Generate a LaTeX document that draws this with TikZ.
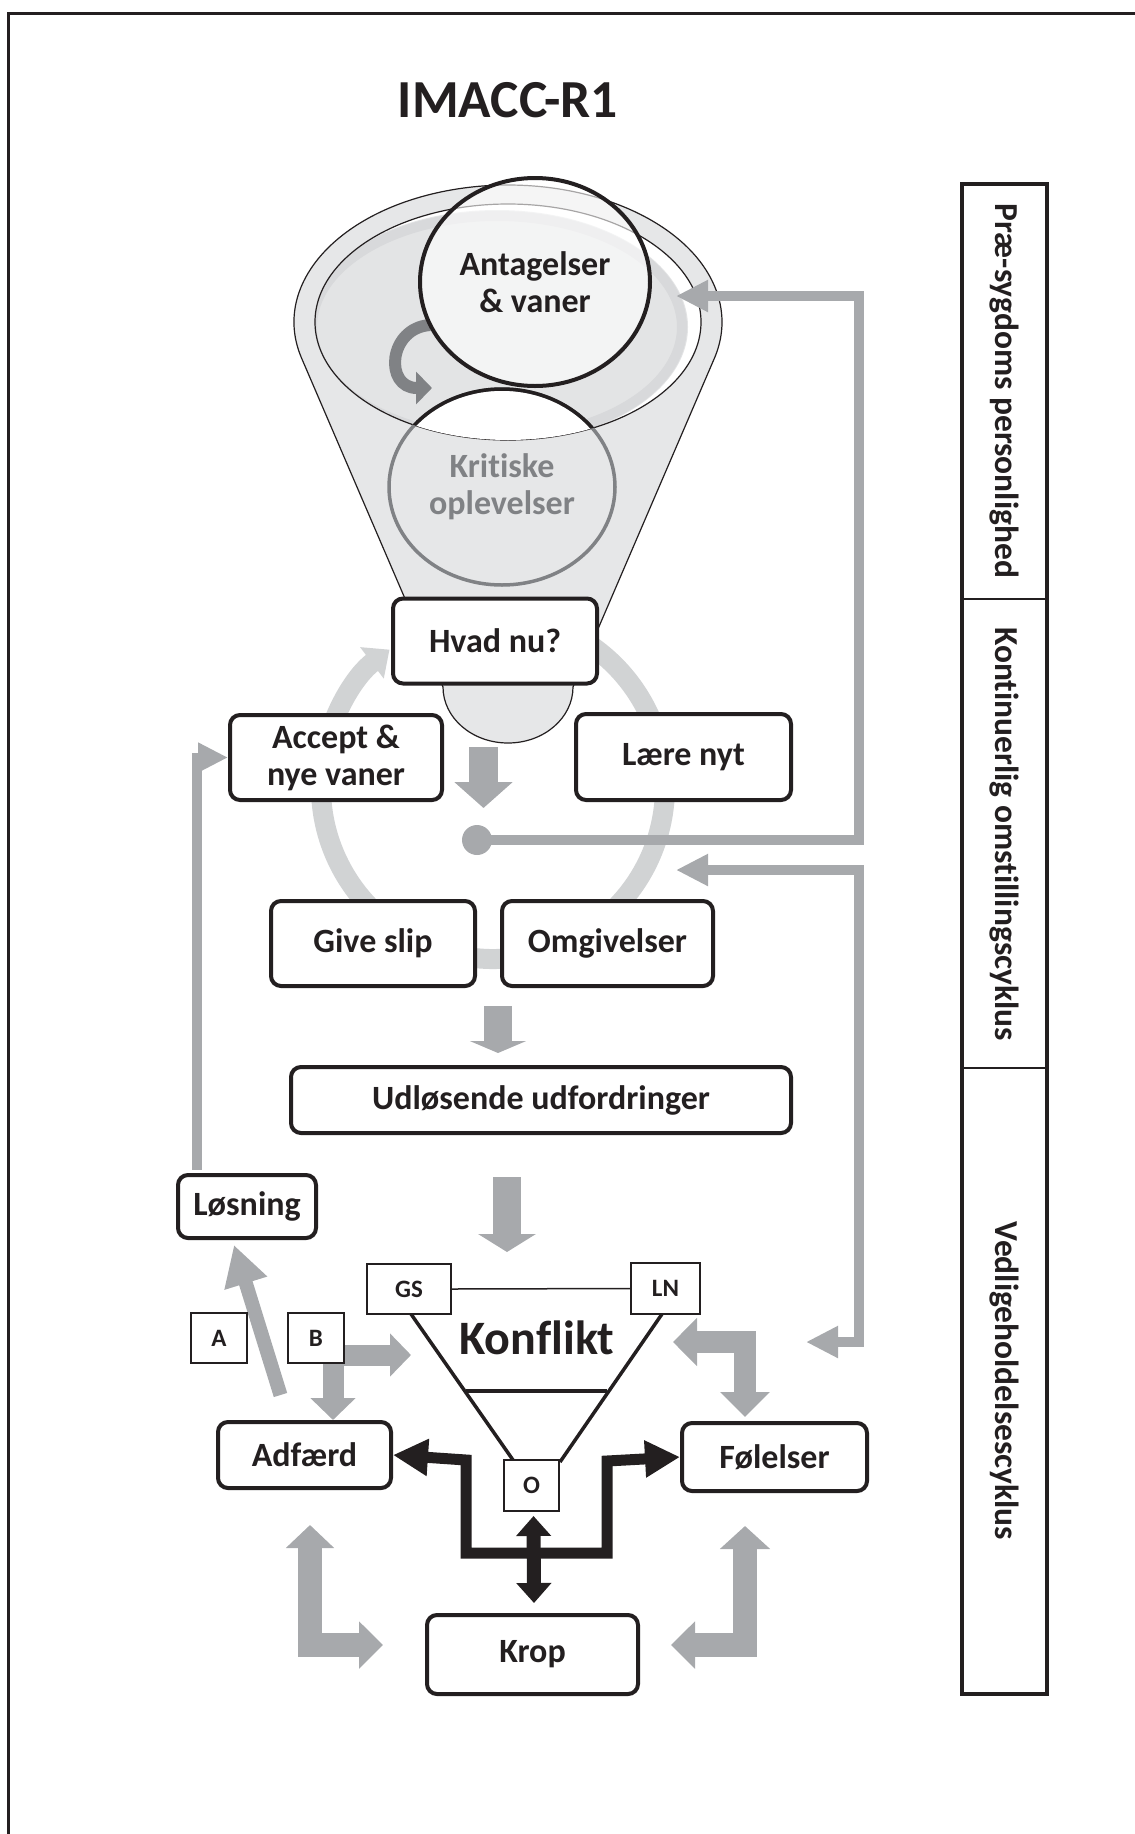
\documentclass[tikz,border=0pt]{standalone}
\usepackage{fontspec}
\setmainfont{Carlito}[Ligatures=NoCommon]
\usetikzlibrary{arrows.meta,calc,shapes.geometric}
\definecolor{ink}{HTML}{231F20}
\definecolor{arrgray}{HTML}{A7A9AC}
\definecolor{ringgray}{HTML}{D1D3D4}
\definecolor{funnelgray}{HTML}{E6E7E8}
\definecolor{shadegray}{HTML}{E3E4E5}
\definecolor{shadeedge}{HTML}{D8D9DB}
\definecolor{midgray}{HTML}{808285}
\begin{document}
\begin{tikzpicture}[x=1pt,y=-1pt,
  box/.style={draw=ink, line width=4pt, rounded corners=10pt, fill=white, inner sep=0pt,
    align=center, text=ink, font=\fontsize{34}{37}\selectfont\bfseries},
  sq/.style={draw=ink, line width=2pt, fill=white, inner sep=0pt, text=ink,
    font=\fontsize{25}{28}\selectfont\bfseries},
  garrow/.style={draw=arrgray, line width=10pt},
  blockarrow/.style={draw=arrgray, line join=miter},
  blk/.style={draw=ink, line join=miter},
  coltext/.style={rotate=-90, text=ink, font=\fontsize{33.5}{36}\selectfont\bfseries}
]
\useasboundingbox (0,0) rectangle (1135,1834);
% frame
\draw[ink, line width=3pt] (8,1834) -- (8,13) -- (1135,13);
% title
\node[text=ink, font=\fontsize{53.5}{60}\selectfont\bfseries] (title) at (508,100) {IMACC-R1};

% cycle ring
\coordinate (ringc) at (493,787);
\draw[ringgray, line width=20pt, -{Triangle[length=22pt,width=38pt]}]
  (ringc) ++(-80:172) arc[start angle=-80, end angle=233, radius=172];

% funnel
\filldraw[fill=funnelgray, draw=ink, line width=1.2pt]
  (443,687) -- (301.3,357.5) arc[start angle=165, end angle=375, x radius=214, y radius=137]
  -- (573,687) arc[start angle=0, end angle=180, x radius=65, y radius=56] -- cycle;
\fill[white] (508,322) ellipse[x radius=193, y radius=118];
\begin{scope}
  \clip (508,322) ellipse[x radius=193, y radius=118];
  \fill[shadegray] (497,327) ellipse[x radius=191, y radius=117];
  \draw[shadeedge, line width=10pt] (497,327) ellipse[x radius=185, y radius=111];
\end{scope}
\draw[ink, line width=1.2pt] (508,322) ellipse[x radius=193, y radius=118];

% Kritiske oplevelser
\begin{scope}
  \clip (508,322) ellipse[x radius=193, y radius=118];
  \fill[white] (502,487) ellipse[x radius=113, y radius=98];
\end{scope}
\node[ellipse, draw=midgray, line width=3.5pt, minimum width=226, minimum height=196, inner sep=0pt,
  align=center, text=midgray, font=\fontsize{34}{37}\selectfont\bfseries] (krit) at (502,487)
  {Kritiske\\oplevelser};
\begin{scope}
  \clip (508,322) ellipse[x radius=193, y radius=118];
  \draw[ink, line width=3.5pt] (502,487) ellipse[x radius=113, y radius=98];
\end{scope}

% curved arrow
\coordinate (cvs) at (430,325);
\coordinate (cve) at (432,388);
\draw[midgray, line width=12pt, -{Triangle[length=16pt,width=32pt]}]
  (cvs) .. controls (388,328) and (384,388) .. (cve);

% Antagelser & vaner
\node[ellipse, draw=ink, line width=4pt, fill=white, fill opacity=0.6, text opacity=1,
  minimum width=230, minimum height=208, inner sep=0pt, align=center, text=ink,
  font=\fontsize{34}{37}\selectfont\bfseries] (antag) at (535,282) {Antagelser\\\& vaner};

% gray arrow funnel -> dot
\coordinate (fbot) at (483.5,747);
\coordinate (ftip) at (483.5,808);
\draw[blockarrow, line width=29pt, -{Triangle[length=26pt,width=57pt]}] (fbot) -- (ftip);

% dot and feedback lines
\node[circle, fill=arrgray, minimum size=30, inner sep=0pt] (dot) at (477,840) {};
\coordinate (rimtip) at (676,296);
\draw[garrow, -{Triangle[length=32pt,width=30pt]}] (dot.center) -- (859,840) |- (rimtip);
\coordinate (ringtip) at (676,870);
\coordinate (foltip) at (806,1342);
\draw[garrow, {Triangle[length=32pt,width=30pt]}-{Triangle[length=32pt,width=30pt]}]
  (ringtip) -- (859,870) |- (foltip);

% boxes of the cycle
\node[box, minimum width=204, minimum height=85] (hvad) at (495,641) {Hvad nu?};
\node[box, minimum width=212, minimum height=85] (accept) at (336,757.5) {Accept \&\\nye vaner};
\node[box, minimum width=215, minimum height=86] (laere) at (683.5,757) {Lære nyt};
\node[box, minimum width=204, minimum height=85] (give) at (373,943.5) {Give slip};
\node[box, minimum width=211, minimum height=85] (omg) at (607.5,943.5) {Omgivelser};
\node[box, minimum width=500, minimum height=66] (udl) at (541,1100) {Udløsende udfordringer};
\node[box, minimum width=138, minimum height=63] (losn) at (247,1206.5) {Løsning};
\node[box, minimum width=173, minimum height=66] (adf) at (304.5,1455) {Adfærd};
\node[box, minimum width=185, minimum height=68] (fol) at (774.5,1457) {Følelser};
\node[box, minimum width=211, minimum height=79] (krop) at (532.5,1654.5) {Krop};

% Omgivelser -> Udløsende
\draw[blockarrow, line width=28pt, -{Triangle[length=12pt,width=56pt]}]
  ($(omg.south)+(-109.5,18)$) -- ($(udl.north)+(-43,-12)$);
% Udløsende -> Konflikt
\draw[blockarrow, line width=28pt, -{Triangle[length=18pt,width=57pt]}]
  ($(udl.south)+(-34,42)$) -- ($(udl.south)+(-34,117)$);

% Løsning -> Accept
\draw[garrow, -{Triangle[length=30pt,width=28pt]}] ($(losn.north west)+(21,-3)$) |- (accept.west);
% Adfærd -> Løsning
\draw[blockarrow, line width=14pt, -{Triangle[length=40pt,width=42pt]}]
  ($(adf.north)+(-24,-25)$) -- ($(losn.south)+(-13,5)$);

% conflict triangle
\node[sq, minimum width=84, minimum height=50] (gs) at (409,1289) {GS};
\node[sq, minimum width=69, minimum height=51] (ln) at (665.5,1288.5) {LN};
\draw[ink, line width=1.5pt] (gs.east) -- (ln.west);
\draw[ink, line width=3.5pt] (411,1314) -- (513,1460);
\draw[ink, line width=3.5pt] (662,1314) -- (560,1462);
\draw[ink, line width=3.5pt] (466,1391) -- (607,1391);
\node[text=ink, font=\fontsize{48}{52}\selectfont\bfseries] (konf) at (537,1338) {Konflikt};

% B arrows
\draw[blockarrow, line width=21pt, {Triangle[length=21pt,width=42pt]}-{Triangle[length=22pt,width=44pt]}]
  (411,1355) -- (333,1355) -- (adf.north -| 333,0);
\node[sq, minimum width=56, minimum height=50] (a) at (219,1338) {A};
\node[sq, minimum width=56, minimum height=50] (b) at (316,1338) {B};

% gray L arrows
\draw[blockarrow, line width=22pt, {Triangle[length=24pt,width=47pt]}-{Triangle[length=25pt,width=48pt]}]
  (673,1342) -- (745,1342) -- (745,1417);
\draw[blockarrow, line width=24pt, {Triangle[length=23pt,width=47pt]}-{Triangle[length=24pt,width=46pt]}]
  (310,1525) -- (310,1645) -- (383,1645);
\draw[blockarrow, line width=24pt, {Triangle[length=23pt,width=49pt]}-{Triangle[length=24pt,width=46pt]}]
  (745,1526) -- (745,1645) -- (671,1645);

% black arrows
\node[sq, minimum width=55, minimum height=51] (o) at (531.5,1485.5) {O};
\draw[blk, line width=11pt, {Triangle[length=35pt,width=35pt]}-{Triangle[length=35pt,width=35pt]}]
  (adf.east) -- (466,1460) -- (466,1553) -- (607,1553) -- (607,1461) -- (fol.west);
\draw[blk, line width=14pt, {Triangle[length=20pt,width=34pt]}-{Triangle[length=20pt,width=34pt]}]
  ($(o.south)+(2,4)$) -- ($(krop.north)+(1.5,-10)$);

% right column
\draw[ink, line width=4pt] (962,184) rectangle (1047,1694);
\draw[ink, line width=2pt] (962,599) -- (1047,599);
\draw[ink, line width=2pt] (962,1068) -- (1047,1068);
\node[coltext] (c1) at (1004,391) {Præ-sygdoms personlighed};
\node[coltext] (c2) at (1004,834) {Kontinuerlig omstillingscyklus};
\node[coltext] (c3) at (1004,1381) {Vedligeholdelsescyklus};
\end{tikzpicture}
\end{document}
